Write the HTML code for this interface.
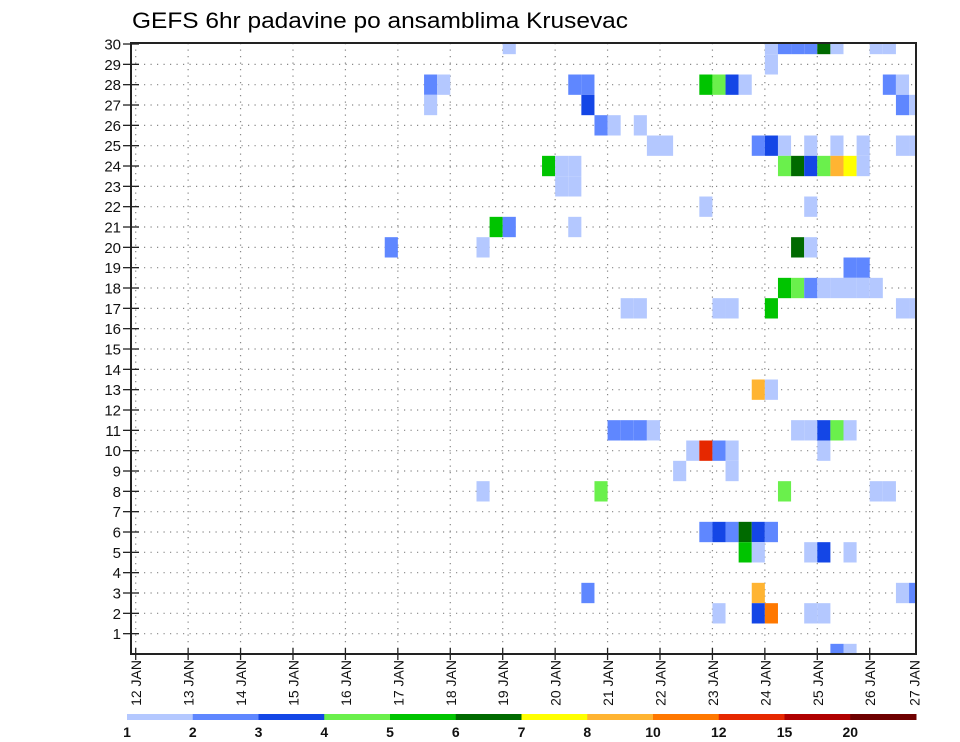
<!DOCTYPE html>
<html><head><meta charset="utf-8"><style>
html,body{margin:0;padding:0;background:#fff;}
svg{display:block;font-family:"Liberation Sans",sans-serif;}
</style></head><body>
<svg id="chart" width="960" height="742" viewBox="0 0 960 742" xmlns="http://www.w3.org/2000/svg">
<text x="132" y="28" font-size="22" textLength="496" lengthAdjust="spacingAndGlyphs">GEFS 6hr padavine po ansamblima Krusevac</text>
<g id="grid"></g>
<g id="cells"></g>
<g id="axes"></g>
<g id="legend"></g>
</svg>
<script>
// data: ensemble member, 6h step index (period ending 12 JAN 00Z + (step+1)*6h), precip mm
const members = [30,30,30,30,30,30,30,30,30, 29, 28,28,28,28,28,28,28,28,28,28, 27,27,27,27, 26,26,26, 25,25,25,25,25,25,25,25,25,25, 24,24,24,24,24,24,24,24,24,24, 23,23, 22,22, 21,21,21, 20,20,20,20, 19,19, 18,18,18,18,18,18,18,18, 17,17,17,17,17,17,17, 13,13, 11,11,11,11,11,11,11,11,11, 10,10,10,10,10, 9,9, 8,8,8,8,8, 6,6,6,6,6,6, 5,5,5,5,5, 3,3,3,3, 2,2,2,2,2, 0,0];
const steps = [28,48,49,50,51,52,53,56,57, 48, 22,23,33,34,43,44,45,46,57,58, 22,34,58,59, 35,36,38, 39,40,47,48,49,51,53,55,58,59, 31,32,33,49,50,51,52,53,54,55, 32,33, 43,51, 27,28,33, 19,26,50,51, 54,55, 49,50,51,52,53,54,55,56, 37,38,44,45,48,58,59, 47,48, 36,37,38,39,50,51,52,53,54, 42,43,44,45,52, 41,45, 26,35,49,56,57, 43,44,45,46,47,48, 46,47,51,52,54, 34,47,58,59, 44,47,48,51,52, 53,54];
const precip = [1.5,1.5,2.5,2.5,2.5,6.5,1.5,1.5,1.5, 1.5, 2.5,1.5,2.5,2.5,5.5,4.5,3.5,1.5,2.5,1.5, 1.5,3.5,2.5,1.5, 2.5,1.5,1.5, 1.5,1.5,2.5,3.5,1.5,1.5,1.5,1.5,1.5,1.5, 5.5,1.5,1.5,4.5,6.5,3.5,4.5,9,7.5,1.5, 1.5,1.5, 1.5,1.5, 5.5,2.5,1.5, 2.5,1.5,6.5,1.5, 2.5,2.5, 5.5,4.5,2.5,1.5,1.5,1.5,1.5,1.5, 1.5,1.5,1.5,1.5,5.5,1.5,1.5, 9,1.5, 2.5,2.5,2.5,1.5,1.5,1.5,3.5,4.5,1.5, 1.5,13.5,2.5,1.5,1.5, 1.5,1.5, 1.5,4.5,4.5,1.5,1.5, 2.5,3.5,2.5,6.5,3.5,2.5, 5.5,1.5,1.5,3.5,1.5, 2.5,9,1.5,2.5, 1.5,3.5,11,1.5,1.5, 2.5,1.5];
const yTicks = [1,2,3,4,5,6,7,8,9,10,11,12,13,14,15,16,17,18,19,20,21,22,23,24,25,26,27,28,29,30];
const dayLabels = ["12 JAN","13 JAN","14 JAN","15 JAN","16 JAN","17 JAN","18 JAN","19 JAN","20 JAN","21 JAN","22 JAN","23 JAN","24 JAN","25 JAN","26 JAN","27 JAN"];
const binEdges = [1,2,3,4,5,6,7,8,10,12,15,20];
const binColors = ["#b4c8ff","#5f87ff","#1446e6","#6af04c","#00c400","#006a00","#ffff00","#ffb432","#ff7800","#e62800","#b00000","#6e0000"];

const NS="http://www.w3.org/2000/svg";
const PL=131, PR=916, PT=43, PB=654;
const X0=135.7, DAY=52.43;
const xStep = s => X0 + s*DAY/4;
const xDay = d => X0 + d*DAY;
const yMem = m => 654 - m*20.333;
function mk(tag, attrs, parent){const e=document.createElementNS(NS,tag);for(const k in attrs)e.setAttribute(k,attrs[k]);parent.appendChild(e);return e;}
function colorFor(v){let c=null;for(let i=0;i<binEdges.length;i++){if(v>=binEdges[i])c=binColors[i];}return c;}

const grid=document.getElementById('grid'), cells=document.getElementById('cells'), axes=document.getElementById('axes'), legend=document.getElementById('legend');
for(let i=0;i<members.length;i++){
  const col=colorFor(precip[i]); if(!col) continue;
  let x1=xStep(steps[i]), x2=xStep(steps[i]+1);
  let y1=yMem(members[i]+0.5), y2=yMem(members[i]-0.5);
  x1=Math.max(x1,PL); x2=Math.min(x2,PR); y1=Math.max(y1,PT); y2=Math.min(y2,PB);
  const r=mk('rect',{x:x1,y:y1,width:x2-x1,height:y2-y1,fill:col},cells);
  
  
}
for(let m=1;m<=29;m++){
  const l=mk('line',{x1:PL,x2:PR,y1:yMem(m),y2:yMem(m),stroke:'#888','stroke-width':1.2,'stroke-dasharray':'1.2 5.3'},grid);
  
  
}
for(let d=0;d<15;d++){
  const l=mk('line',{x1:xDay(d),x2:xDay(d),y1:PT,y2:PB,stroke:'#888','stroke-width':1.2,'stroke-dasharray':'1.2 5.3'},grid);
  
  
}
const fr=mk('rect',{x:PL,y:PT,width:PR-PL,height:PB-PT,fill:'none',stroke:'#222','stroke-width':2},axes);


yTicks.forEach(m=>{
  const y=yMem(m);
  const t=mk('line',{x1:123,x2:139,y1:y,y2:y,stroke:'#222','stroke-width':1.3},axes);
  
  
  const tx=mk('text',{x:121,y:y+5.5,'font-size':15,'text-anchor':'end',fill:'#111'},axes);
  tx.textContent=m;
  
  
});
dayLabels.forEach((lab,d)=>{
  const x=Math.min(xDay(d),914);
  if(d<15){const t=mk('line',{x1:x,x2:x,y1:PB-6,y2:PB+6,stroke:'#222','stroke-width':1.3},axes);
  
  }
  const tx=mk('text',{x:0,y:0,'font-size':14,'text-anchor':'end',fill:'#111',transform:`translate(${x+5.5},660) rotate(-90)`},axes);
  tx.textContent=lab;
  
  
});
const LX=127, LW=(916-127)/binColors.length;
binColors.forEach((c,i)=>{
  const r=mk('rect',{x:LX+i*LW,y:714,width:LW+0.5,height:6,fill:c},legend);
  
  
});
binEdges.forEach((v,i)=>{
  const t=mk('text',{x:LX+i*LW,y:737,'font-size':14,'font-weight':'bold','text-anchor':'middle',fill:'#111'},legend);
  t.textContent=v;
  
  
});
</script>
</body></html>
